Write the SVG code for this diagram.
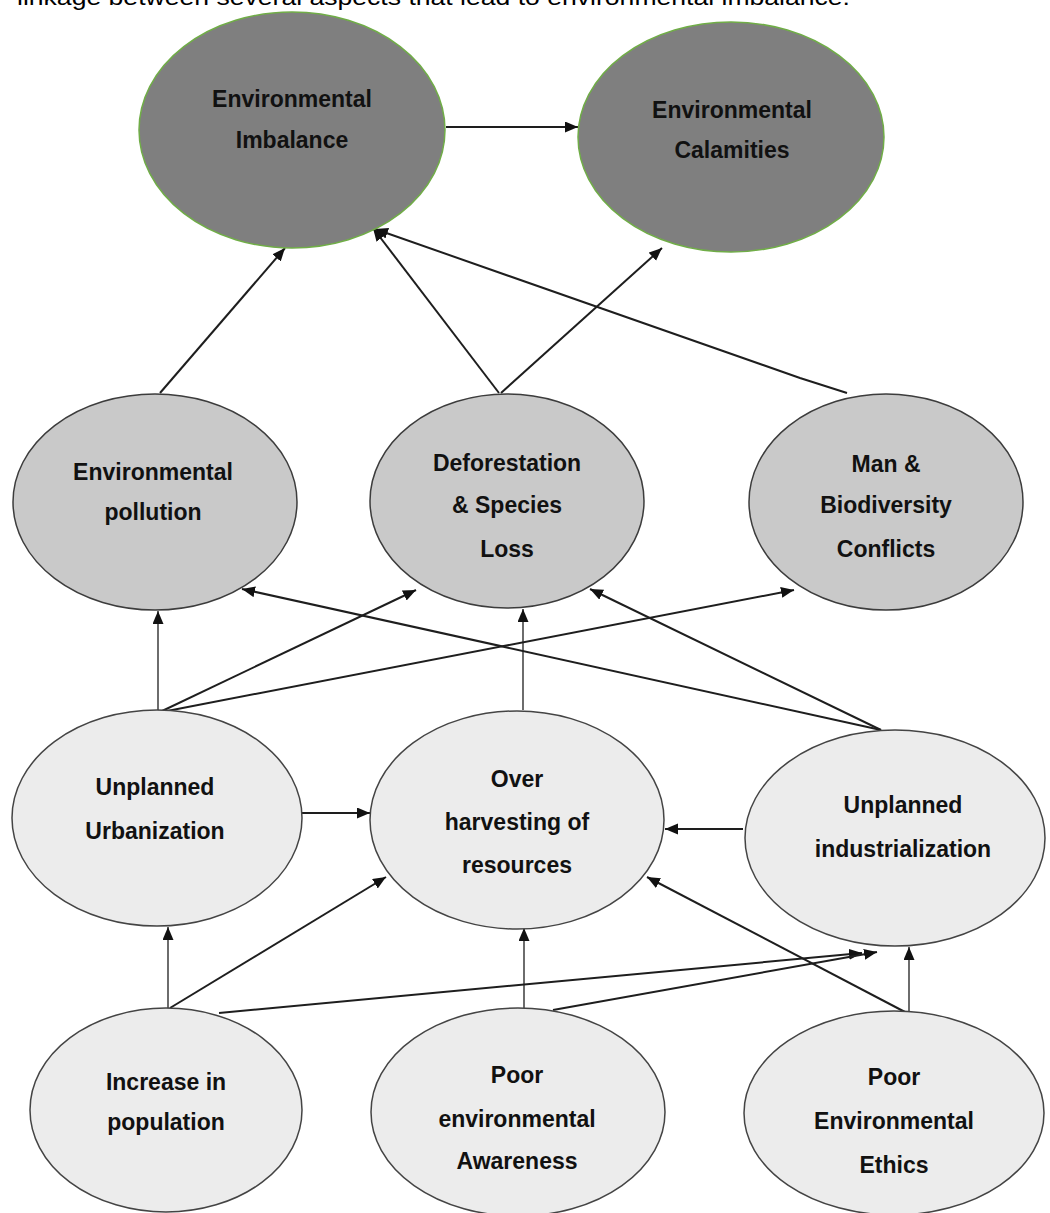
<svg xmlns="http://www.w3.org/2000/svg" width="1050" height="1213" viewBox="0 0 1050 1213">
  <style>
    .top   { fill: #7f7f7f; stroke: #70ad47; stroke-width: 1.5; }
    .mid   { fill: #c9c9c9; stroke: #3c3c3c; stroke-width: 1.5; }
    .low   { fill: #ececec; stroke: #444444; stroke-width: 1.5; }
    .lbl   { font-family: "Liberation Sans", Arial, sans-serif; font-weight: bold; font-size: 23px; fill: #111111; text-anchor: middle; }
    .cap   { font-family: "Liberation Sans", Arial, sans-serif; font-size: 22px; fill: #000000; }
    .c     { stroke: #1e1e1e; stroke-width: 2; fill: none; marker-end: url(#ah); }
    .t     { stroke: #1e1e1e; stroke-width: 1.3; fill: none; marker-end: url(#ah); }
  </style>
  <defs>
    <marker id="ah" markerUnits="userSpaceOnUse" markerWidth="14" markerHeight="12" refX="13" refY="5.5" orient="auto">
      <path d="M0,0 L13,5.5 L0,11 Z" fill="#111111"/>
    </marker>
  </defs>

  <rect x="0" y="0" width="1050" height="1213" fill="#ffffff"/>

  <!-- caption line running off the top edge -->
  <text class="cap" x="17" y="5" textLength="833" lengthAdjust="spacingAndGlyphs">linkage between several aspects that lead to environmental imbalance.</text>

  <!-- connectors -->
  <g id="connectors">
    <line class="c" x1="446" y1="127" x2="578" y2="127"/>
    <line class="c" x1="160" y1="393" x2="285" y2="248"/>
    <line class="c" x1="499" y1="393" x2="373" y2="228"/>
    <line class="c" x1="501" y1="393" x2="662" y2="248"/>
    <polyline class="c" points="847,393 800,378 375,229"/>

    <line class="t" x1="158" y1="712" x2="158" y2="611"/>
    <line class="c" x1="160" y1="712" x2="416" y2="590"/>
    <line class="c" x1="162" y1="712" x2="794" y2="590"/>
    <line class="c" x1="881" y1="730" x2="242" y2="589"/>
    <line class="c" x1="881" y1="730" x2="590" y2="589"/>
    <line class="t" x1="523" y1="710" x2="523" y2="609"/>

    <line class="c" x1="302" y1="813" x2="370" y2="813"/>
    <line class="c" x1="743" y1="829" x2="665" y2="829"/>

    <line class="t" x1="168" y1="1008" x2="168" y2="927"/>
    <line class="c" x1="170" y1="1008" x2="386" y2="877"/>
    <line class="c" x1="219" y1="1013" x2="862" y2="953"/>
    <line class="t" x1="524" y1="1008" x2="524" y2="928"/>
    <line class="c" x1="553" y1="1010" x2="877" y2="952"/>
    <line class="c" x1="905" y1="1012" x2="647" y2="877"/>
    <line class="t" x1="909" y1="1012" x2="909" y2="947"/>
  </g>

  <!-- outcomes -->
  <g id="env-imbalance">
    <ellipse class="top" cx="292" cy="130" rx="153" ry="118"/>
    <text class="lbl" x="292"><tspan x="292" y="107">Environmental</tspan><tspan x="292" y="148">Imbalance</tspan></text>
  </g>
  <g id="env-calamities">
    <ellipse class="top" cx="731" cy="137" rx="153" ry="115"/>
    <text class="lbl" x="732"><tspan x="732" y="118">Environmental</tspan><tspan x="732" y="158">Calamities</tspan></text>
  </g>

  <!-- direct impacts -->
  <g id="env-pollution">
    <ellipse class="mid" cx="155" cy="502" rx="142" ry="108"/>
    <text class="lbl"><tspan x="153" y="480">Environmental</tspan><tspan x="153" y="520">pollution</tspan></text>
  </g>
  <g id="deforestation">
    <ellipse class="mid" cx="507" cy="501" rx="137" ry="107"/>
    <text class="lbl"><tspan x="507" y="471">Deforestation</tspan><tspan x="507" y="513">&amp; Species</tspan><tspan x="507" y="557">Loss</tspan></text>
  </g>
  <g id="biodiversity-conflicts">
    <ellipse class="mid" cx="886" cy="502" rx="137" ry="108"/>
    <text class="lbl"><tspan x="886" y="472">Man &amp;</tspan><tspan x="886" y="513">Biodiversity</tspan><tspan x="886" y="557">Conflicts</tspan></text>
  </g>

  <!-- human activities -->
  <g id="urbanization">
    <ellipse class="low" cx="157" cy="818" rx="145" ry="108"/>
    <text class="lbl"><tspan x="155" y="795">Unplanned</tspan><tspan x="155" y="839">Urbanization</tspan></text>
  </g>
  <g id="over-harvesting">
    <ellipse class="low" cx="517" cy="820" rx="147" ry="109"/>
    <text class="lbl"><tspan x="517" y="787">Over</tspan><tspan x="517" y="830">harvesting of</tspan><tspan x="517" y="873">resources</tspan></text>
  </g>
  <g id="industrialization">
    <ellipse class="low" cx="895" cy="838" rx="150" ry="108"/>
    <text class="lbl"><tspan x="903" y="813">Unplanned</tspan><tspan x="903" y="857">industrialization</tspan></text>
  </g>

  <!-- root causes -->
  <g id="population">
    <ellipse class="low" cx="166" cy="1110" rx="136" ry="102"/>
    <text class="lbl"><tspan x="166" y="1090">Increase in</tspan><tspan x="166" y="1130">population</tspan></text>
  </g>
  <g id="awareness">
    <ellipse class="low" cx="518" cy="1112" rx="147" ry="104"/>
    <text class="lbl"><tspan x="517" y="1083">Poor</tspan><tspan x="517" y="1127">environmental</tspan><tspan x="517" y="1169">Awareness</tspan></text>
  </g>
  <g id="ethics">
    <ellipse class="low" cx="894" cy="1113" rx="150" ry="102"/>
    <text class="lbl"><tspan x="894" y="1085">Poor</tspan><tspan x="894" y="1129">Environmental</tspan><tspan x="894" y="1173">Ethics</tspan></text>
  </g>
</svg>
